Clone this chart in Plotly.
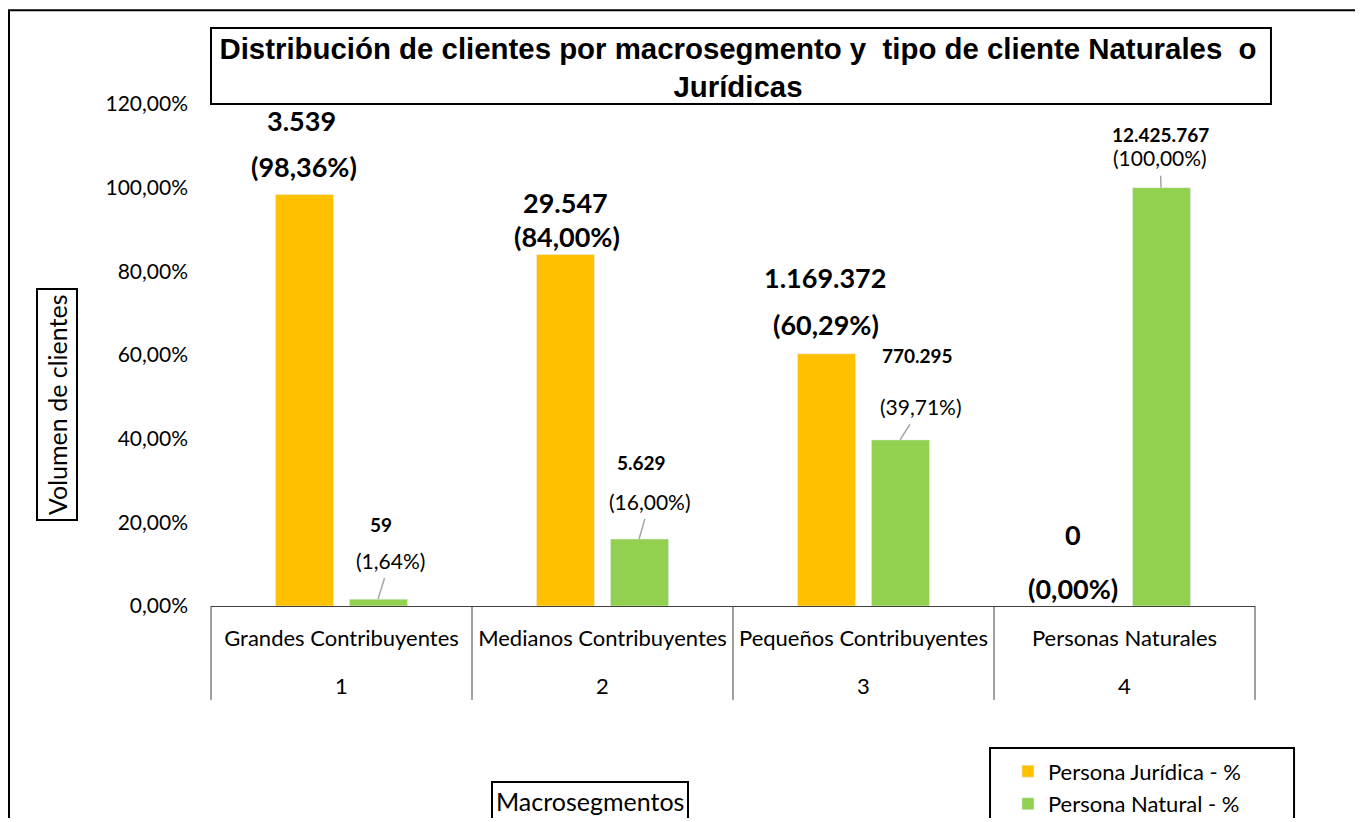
import plotly.graph_objects as go

# ---------------- data ----------------
categories = ["Grandes Contribuyentes", "Medianos Contribuyentes",
              "Pequeños Contribuyentes", "Personas Naturales"]
category_numbers = ["1", "2", "3", "4"]
juridica_pct = [98.36, 84.00, 60.29, 0.00]
natural_pct = [1.64, 16.00, 39.71, 100.00]
juridica_count = ["3.539", "29.547", "1.169.372", "0"]
natural_count = ["59", "5.629", "770.295", "12.425.767"]
juridica_pct_label = ["(98,36%)", "(84,00%)", "(60,29%)", "(0,00%)"]
natural_pct_label = ["(1,64%)", "(16,00%)", "(39,71%)", "(100,00%)"]
y_ticks = [0, 20, 40, 60, 80, 100, 120]
y_tick_text = [f"{v:.2f}".replace(".", ",") + "%" for v in y_ticks]

ORANGE = "#FFC000"
GREEN = "#92D050"
FONT = "Lato"

x_pos = list(range(len(categories)))

fig = go.Figure()
fig.add_trace(go.Bar(x=x_pos, y=juridica_pct, name="Persona Jurídica - %",
                     marker_color=ORANGE, legendgroup="a"))
fig.add_trace(go.Bar(x=x_pos, y=natural_pct, name="Persona Natural - %",
                     marker_color=GREEN, legendgroup="b"))

annotations = []
BAR_OFF = 0.14  # half distance between bar centres in category units

# label offsets (px) relative to the bar top
j_count_shift = [(-3, 74), (0, 52), (-2, 76), (-15, 72)]
j_pct_shift = [(-1, 28), (1, 18), (-1, 29), (-15, 18)]
n_count_shift = [(3, 75), (2, 77), (17, 84), (-1, 53)]
n_pct_arrow = [(12, -39), (11, -38), (21, -33), (-1, -30)]

for i in x_pos:
    xo = i - BAR_OFF
    xg = i + BAR_OFF
    annotations.append(dict(x=xo, y=juridica_pct[i], xref="x", yref="y",
                            text=f"<b>{juridica_count[i]}</b>", showarrow=False,
                            xshift=j_count_shift[i][0], yshift=j_count_shift[i][1],
                            font=dict(family=FONT, size=27, color="black")))
    annotations.append(dict(x=xo, y=juridica_pct[i], xref="x", yref="y",
                            text=f"<b>{juridica_pct_label[i]}</b>", showarrow=False,
                            xshift=j_pct_shift[i][0], yshift=j_pct_shift[i][1],
                            font=dict(family=FONT, size=27, color="black")))
    annotations.append(dict(x=xg, y=natural_pct[i], xref="x", yref="y",
                            text=f"<b>{natural_count[i]}</b>", showarrow=False,
                            xshift=n_count_shift[i][0], yshift=n_count_shift[i][1],
                            font=dict(family=FONT, size=19, color="black")))
    annotations.append(dict(x=xg, y=natural_pct[i], xref="x", yref="y",
                            text=natural_pct_label[i], showarrow=True,
                            arrowhead=0, arrowwidth=1.5, arrowcolor="#A6A6A6",
                            ax=n_pct_arrow[i][0], ay=n_pct_arrow[i][1],
                            startstandoff=4, standoff=0,
                            font=dict(family=FONT, size=21, color="black")))
    # second level of the category axis (segment number)
    annotations.append(dict(x=i, y=-0.159, xref="x", yref="paper",
                            text=category_numbers[i], showarrow=False,
                            yanchor="middle", xanchor="center",
                            font=dict(family=FONT, size=22, color="black")))

# axis titles as boxed annotations
annotations.append(dict(x=-0.1475, y=0.4004, xref="paper", yref="paper",
                        text="Volumen de clientes", textangle=-90, showarrow=False,
                        font=dict(family=FONT, size=25, color="black"),
                        bordercolor="black", borderwidth=2, borderpad=4,
                        xanchor="center", yanchor="middle"))
annotations.append(dict(x=0.363, y=-0.388, xref="paper", yref="paper",
                        text="Macrosegmentos", showarrow=False,
                        font=dict(family=FONT, size=25, color="black"),
                        bordercolor="black", borderwidth=2, borderpad=3,
                        xanchor="center", yanchor="middle"))

shapes = []
# category dividers under the x axis
n = len(categories)
for k in range(n + 1):
    shapes.append(dict(type="line", xref="paper", yref="paper",
                       x0=k / n, x1=k / n, y0=0, y1=-0.187,
                       line=dict(color="#404040", width=1)))
# title box
shapes.append(dict(type="rect", xref="paper", yref="paper",
                   x0=0, x1=1.0153, y0=1.0, y1=1.1514,
                   line=dict(color="black", width=2), fillcolor="rgba(0,0,0,0)"))
# legend box
shapes.append(dict(type="rect", xref="paper", yref="paper",
                   x0=0.7462, x1=1.0374, y0=-0.6, y1=-0.2829,
                   line=dict(color="black", width=2), fillcolor="rgba(0,0,0,0)"))
# outer chart border
shapes.append(dict(type="rect", xref="paper", yref="paper",
                   x0=-0.1935, x1=2.0, y0=-2.0, y1=1.187,
                   line=dict(color="black", width=2), fillcolor="rgba(0,0,0,0)"))

fig.update_layout(
    width=1350, height=810, autosize=False,
    margin=dict(l=203, r=103, t=96, b=212, autoexpand=False),
    paper_bgcolor="white", plot_bgcolor="white",
    separators=",.",
    barmode="group", bargap=0.433, bargroupgap=0.216,
    title=dict(text="<b>Distribución de clientes por macrosegmento y  tipo de cliente Naturales  o<br>Jurídicas</b>",
               x=0.5048, xref="paper", xanchor="center",
               y=0.937, yref="container", yanchor="middle",
               font=dict(family="Liberation Sans", size=29.4, color="black")),
    font=dict(family=FONT, color="black"),
    xaxis=dict(range=[-0.5, 3.5], tickvals=x_pos, ticktext=categories,
               showgrid=False, zeroline=False, showline=True,
               linecolor="#404040", linewidth=1, ticks="",
               tickfont=dict(family=FONT, size=22, color="black"),
               ticklabelstandoff=13, fixedrange=True),
    yaxis=dict(range=[0, 120], tickvals=y_ticks, ticktext=y_tick_text,
               showgrid=False, zeroline=False, showline=False, ticks="",
               tickfont=dict(family=FONT, size=21, color="black"),
               ticklabelstandoff=22, fixedrange=True),
    legend=dict(x=0.7407, y=0.0835, xref="container", yref="container",
                xanchor="left", yanchor="top",
                font=dict(family=FONT, size=22, color="black"),
                bgcolor="rgba(0,0,0,0)", borderwidth=0,
                traceorder="grouped", tracegroupgap=1),
    annotations=annotations,
    shapes=shapes,
)

fig.write_html("out.html")
